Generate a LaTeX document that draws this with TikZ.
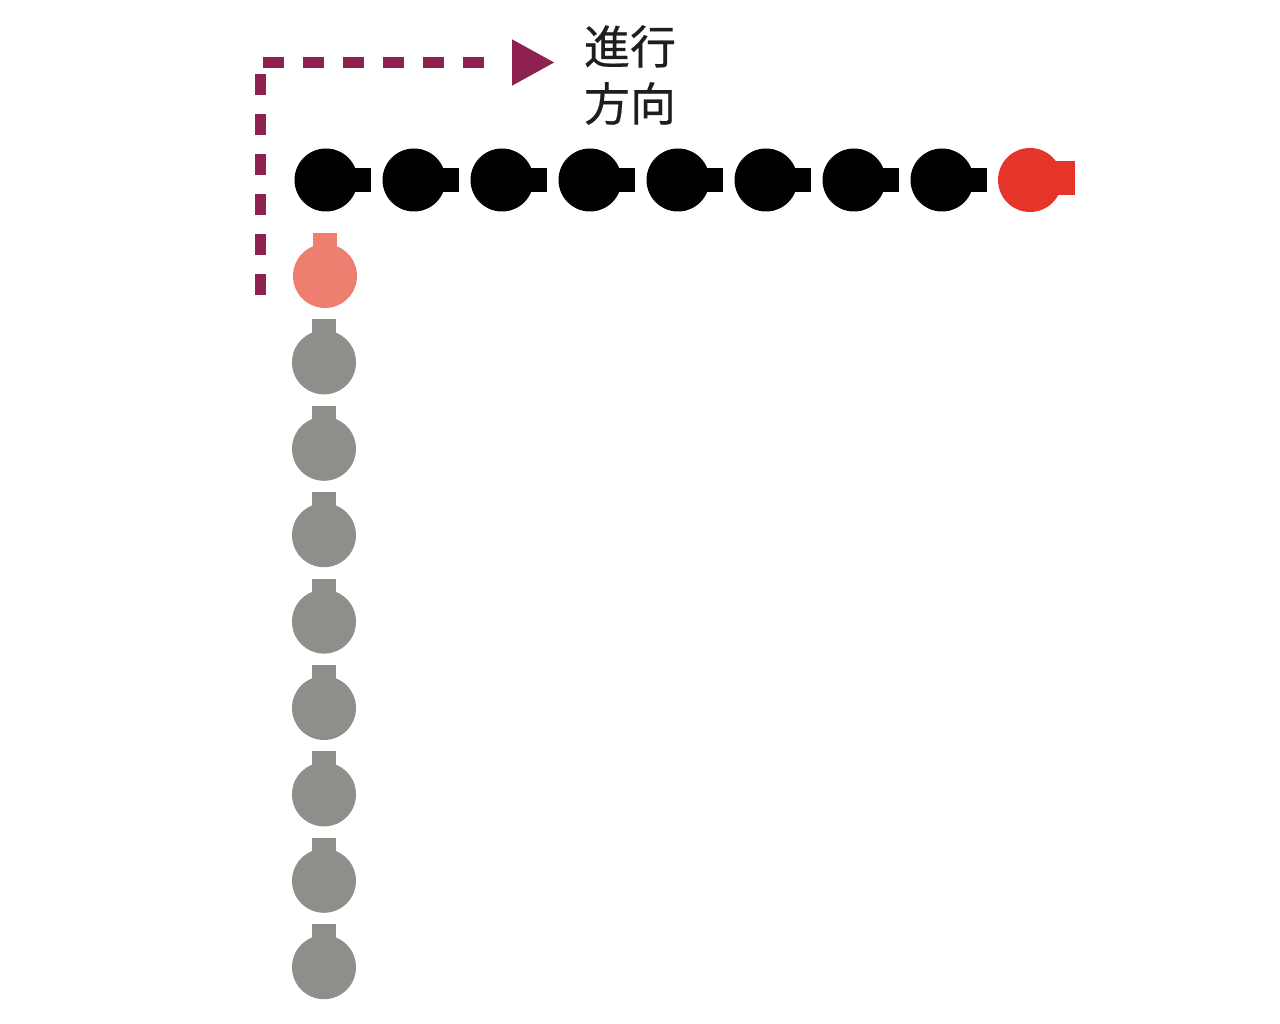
\documentclass[tikz,border=0pt]{standalone}
\usepackage{fontspec}
\newfontfamily\cjk[FakeBold=0.4]{Noto Sans CJK JP}
\usetikzlibrary{arrows.meta}
\definecolor{arrowc}{HTML}{8E2150}
\definecolor{redc}{HTML}{E5352A}
\definecolor{pinkc}{HTML}{EE7F70}
\definecolor{grayc}{HTML}{8F8E8A}
\definecolor{textc}{HTML}{1E1E1E}
\begin{document}
\begin{tikzpicture}[x=1pt,y=-1pt,
  ball/.style={circle,inner sep=0pt,minimum size=63pt,draw=none},
  dashseg/.style={draw=arrowc,line width=11pt,dash pattern=on 21pt off 19pt},
  headseg/.style={draw=arrowc,line width=11pt,-{Triangle[length=43pt,width=43pt,fill=arrowc]}},
  label/.style={font=\cjk\fontsize{46}{57}\selectfont,text=textc,align=center,inner sep=0pt}]
\useasboundingbox (0,0) rectangle (1280,1024);
% black row
\foreach \i in {1,...,8}{
  \pgfmathsetmacro{\xx}{326+(\i-1)*88}
  \fill[black] (\xx+10,168) rectangle (\xx+45,192);
  \node[ball,fill=black] (b\i) at (\xx,180) {};
}
% red lead ball
\fill[redc] (1040,161) rectangle (1075,195);
\node[ball,fill=redc,minimum size=64pt] (r) at (1030,180) {};
% pink ball
\fill[pinkc] (313,233) rectangle (337,255);
\node[ball,fill=pinkc,minimum size=64pt] (p) at (325,276) {};
% gray column
\foreach \i in {1,...,8}{
  \pgfmathsetmacro{\yy}{276+\i*86.4}
  \fill[grayc] (312,\yy-43) rectangle (336,\yy-20);
  \node[ball,fill=grayc,minimum size=64pt] (g\i) at (324,\yy) {};
}
% direction arrow
\coordinate (as) at (260.5,295);
\coordinate (c1) at (260.5,62.5);
\coordinate (h0) at (262.7,62.5);
\coordinate (h1) at (484,62.5);
\coordinate (h2) at (512,62.5);
\coordinate (ae) at (555,62.5);
\draw[dashseg] (as) -- (c1);
\draw[dashseg] (h0) -- (h1);
\draw[headseg] (h2) -- (ae);
\node[label] (t) at (630,75) {進行\\方向};
\end{tikzpicture}
\end{document}
